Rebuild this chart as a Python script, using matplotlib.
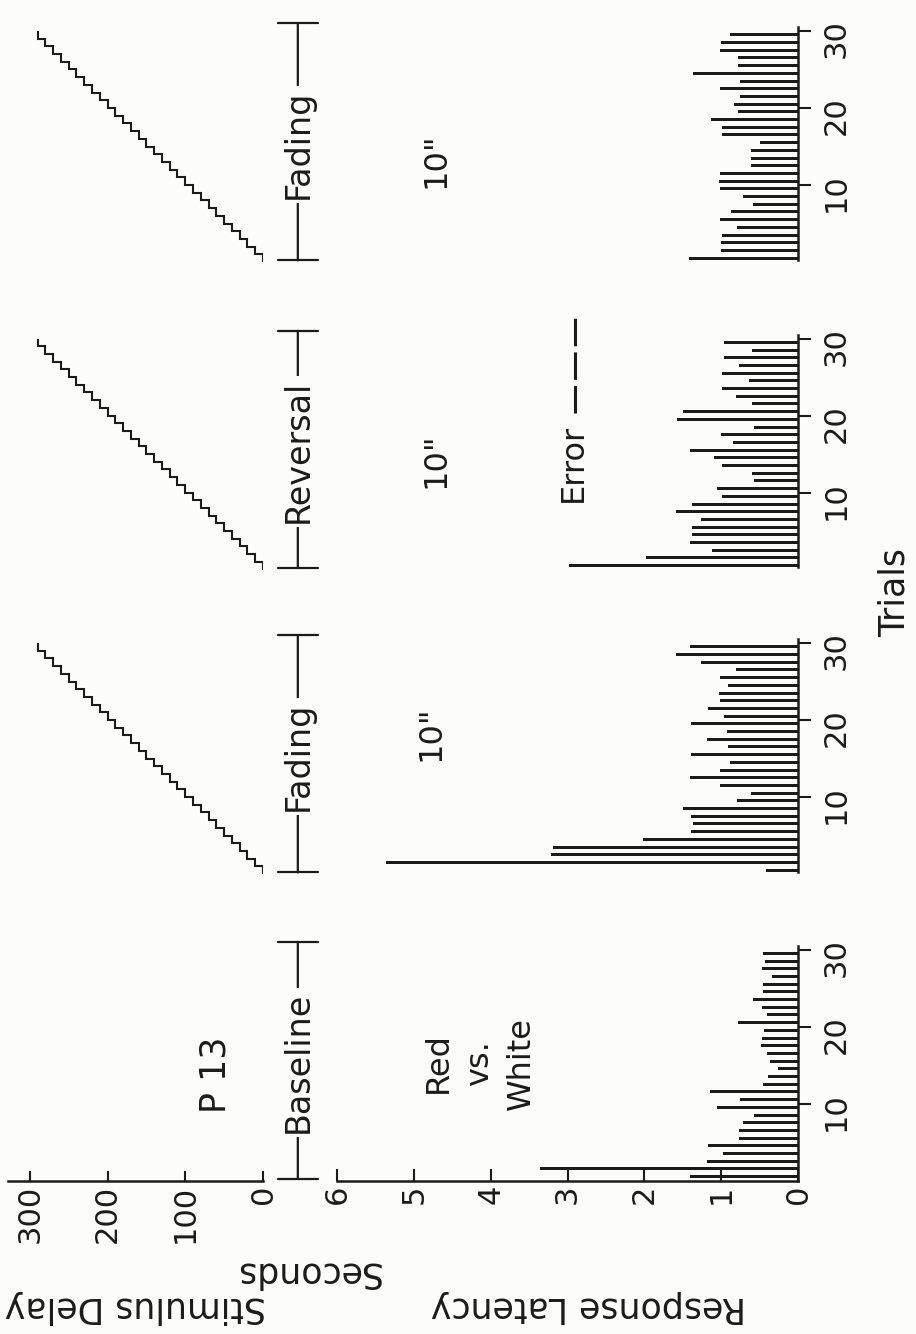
import numpy as np
import matplotlib.pyplot as plt
from matplotlib.lines import Line2D

W, H = 916, 1334
INK = "#1b1b1b"
PAPER = "#fcfcfa"

# data (latency in seconds, trials 1-30)
trials = np.arange(1, 31)
baseline_latency = [1.41, 3.36, 1.19, 0.98, 1.17, 0.77, 0.77, 0.72, 0.57, 1.05,
                    0.76, 1.15, 0.46, 0.39, 0.26, 0.36, 0.40, 0.48, 0.47, 0.44,
                    0.78, 0.40, 0.47, 0.59, 0.46, 0.46, 0.34, 0.47, 0.43, 0.46]
fading1_latency = [0.42, 5.36, 3.22, 3.19, 2.02, 1.39, 1.37, 1.39, 1.50, 0.79,
                   0.61, 1.02, 1.41, 1.02, 0.89, 1.39, 0.91, 1.19, 0.93, 1.39,
                   0.96, 1.17, 1.02, 1.03, 0.91, 1.02, 0.81, 1.26, 1.59, 1.41]
reversal_latency = [2.98, 1.98, 1.12, 1.41, 1.38, 1.38, 1.26, 1.59, 1.38, 0.99,
                    1.05, 0.57, 0.60, 0.99, 1.09, 1.41, 0.85, 1.00, 0.57, 1.58,
                    1.50, 0.60, 0.81, 0.99, 0.64, 0.99, 0.77, 0.96, 0.60, 0.96]
fading2_latency = [1.42, 1.00, 1.00, 0.99, 0.79, 1.02, 0.87, 0.59, 0.72, 1.02,
                   1.03, 1.02, 0.61, 0.61, 0.61, 0.50, 0.99, 0.99, 1.13, 0.78,
                   0.83, 0.76, 1.02, 0.76, 1.37, 0.78, 0.78, 1.02, 1.00, 0.89]
# stimulus delay per trial (seconds), same staircase in the three delay phases
delay_steps = [0, 10, 20, 30, 40, 50, 60, 70, 80, 90,
               100, 110, 120, 130, 140, 150, 160, 170, 180, 190,
               200, 210, 220, 230, 240, 250, 260, 270, 280, 290]

phases = ["Baseline", "Fading", "Reversal", "Fading"]
latencies = [baseline_latency, fading1_latency, reversal_latency, fading2_latency]
has_delay = [False, True, True, True]

# layout (pixels of the rotated page)
origins = [1180.5, 874, 569.5, 262]   # where trial 0 sits for each panel
PX_TRIAL = 7.7
YMAX = 31
FS = 24

plt.rcParams['font.family'] = ['DejaVu Sans']

fig = plt.figure(figsize=(W / 100, H / 100), dpi=100)
fig.patch.set_facecolor(PAPER)


def ft(x, y, s, **kw):
    kw.setdefault('color', INK)
    kw.setdefault('fontsize', FS)
    fig.text(x / W, 1 - y / H, s, ha='center', va='center', **kw)


for i, (name, lat, y0, dly) in enumerate(zip(phases, latencies, origins, has_delay)):
    h = YMAX * PX_TRIAL / H

    # response latency bars
    ax = fig.add_axes([337 / W, 1 - y0 / H, 461 / W, h])
    ax.set_facecolor('none')
    ax.barh(trials - 0.5, lat, height=0.4, color=INK, linewidth=0)
    ax.set_xlim(6, 0)
    ax.set_ylim(0, YMAX)
    ax.spines['top'].set_visible(False)
    ax.spines['left'].set_visible(False)
    ax.spines['right'].set_bounds(0 if i == 0 else 0.3, 30.5)
    for s in ['right', 'bottom']:
        ax.spines[s].set_linewidth(1.8)
        ax.spines[s].set_color(INK)
    ax.yaxis.tick_right()
    ax.set_yticks([10, 20, 30])
    ax.tick_params(axis='y', direction='out', length=9, width=1.5, pad=8,
                   labelsize=22, labelrotation=90, colors=INK)
    if i == 0:
        ax.set_xticks(range(7))
        ax.tick_params(axis='x', direction='in', length=9, width=1.5, pad=3,
                       labelsize=22, labelrotation=90, colors=INK)
    else:
        ax.spines['bottom'].set_visible(False)
        ax.set_xticks([])

    # phase bracket
    tr = ax.get_yaxis_transform()
    ax.annotate('', xy=(-0.085, 31), xytext=(-0.085, 0.2),
                xycoords=tr, textcoords=tr, annotation_clip=False,
                arrowprops=dict(arrowstyle='|-|,widthA=0.72,widthB=0.72',
                                mutation_scale=20, color=INK, lw=1.6,
                                shrinkA=0, shrinkB=0))
    ax.text(-0.085, 15.3, name, transform=tr, rotation=90, ha='center',
            va='center', fontsize=FS, color=INK,
            bbox=dict(fc=PAPER, ec='none', pad=3))

    # stimulus delay staircase
    ax2 = fig.add_axes([8 / W, 1 - y0 / H, 255 / W, h])
    ax2.set_facecolor('none')
    ax2.set_xlim(328, 0)
    ax2.set_ylim(0, YMAX)
    for s in ['top', 'left', 'right']:
        ax2.spines[s].set_visible(False)
    ax2.set_yticks([])
    if dly:
        ax2.stairs(delay_steps, np.arange(0, 31), orientation='horizontal',
                   baseline=None, color=INK, lw=1.5)
    if i == 0:
        ax2.spines['bottom'].set_linewidth(1.8)
        ax2.spines['bottom'].set_color(INK)
        ax2.set_xticks([0, 100, 200, 300])
        ax2.tick_params(axis='x', direction='in', length=7, width=1.5, pad=3,
                        labelsize=22, labelrotation=90, colors=INK)
    else:
        ax2.spines['bottom'].set_visible(False)
        ax2.set_xticks([])

# annotations
ft(216, 1075, "P 13", rotation=90, fontsize=25)
ft(480, 1063, "Red\nvs.\nWhite", rotation=90, linespacing=1.45,
   multialignment='center', fontsize=23)
for x, y in [(431, 733), (436, 460), (436, 160)]:
    ft(x, y, '10"', rotation=90, fontsize=23)
ft(573, 463, "Error", rotation=90, fontsize=23)
fig.add_artist(Line2D([575 / W, 575 / W], [1 - 413 / H, 1 - 318 / H],
                      color=INK, lw=2.2, linestyle=(0, (9, 2))))
ft(895, 592, "Trials", rotation=90, fontsize=25)

# axis titles (upside down on the rotated page)
ft(135, 1307, "Stimulus Delay", rotation=180, fontsize=25)
ft(307, 1273, "Seconds", rotation=180, fontsize=25)
ft(588, 1307, "Response Latency", rotation=180, fontsize=25)

fig.savefig("out.png", dpi=100, facecolor=PAPER)
